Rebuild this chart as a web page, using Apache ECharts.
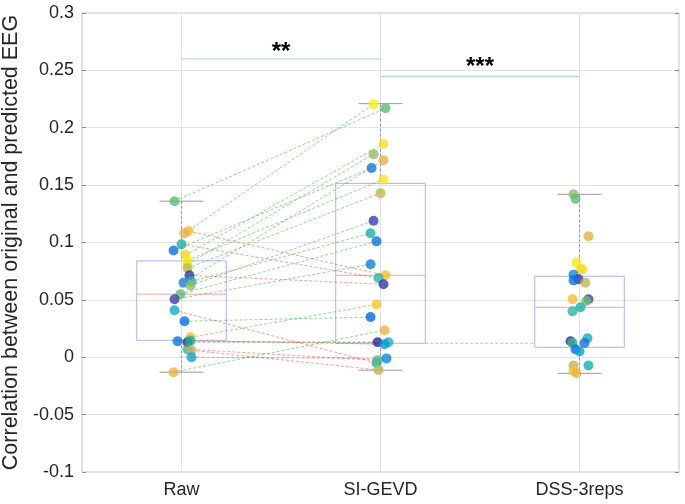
<!DOCTYPE html>
<html>
<head>
<meta charset="utf-8">
<script src="https://cdn.jsdelivr.net/npm/echarts@6/dist/echarts.min.js"></script>
<style>html,body{margin:0;padding:0;background:#fff}#c{width:685px;height:504px}</style>
</head>
<body>
<div id="c"></div>
<script>
// ---- data ----
const categories = ['Raw', 'SI-GEVD', 'DSS-3reps'];
const yTicks = [-0.1, -0.05, 0, 0.05, 0.1, 0.15, 0.2, 0.25, 0.3];

// per-subject values (paired Raw -> SI-GEVD)
const rawVals = [0.136, 0.110, 0.108, 0.0985, 0.093, 0.089, 0.0845, 0.081, 0.0775, 0.0714, 0.066, 0.065, 0.0624, 0.055, 0.0505, 0.041, 0.0314, 0.0174, 0.014, 0.013, 0.0145, 0.007, 0.006, 0.000, -0.013];
const siVals  = [0.217, 0.0714, 0.2205, 0.069, 0.165, 0.186, 0.155, 0.177, 0.143, 0.0636, 0.108, 0.1717, 0.119, 0.101, 0.081, -0.005, 0.035, 0.046, 0.013, 0.013, 0.0113, -0.0026, -0.011, -0.001, 0.0235];
const dssVals = [0.142, 0.138, 0.1055, 0.0826, 0.0766, 0.0766, 0.072, 0.068, 0.067, 0.065, 0.0505, 0.0505, 0.049, 0.0435, 0.040, 0.014, 0.0125, 0.0165, 0.0124, 0.007, 0.005, -0.0072, -0.0072, -0.012, -0.014];

// horizontal jitter (category units)
const rawJit = [-0.035, 0.035, 0.015, 0, -0.04, 0.02, 0.03, 0.03, 0.03, 0.04, 0.05, 0.01, 0.045, -0.005, -0.035, -0.035, 0.015, 0.045, -0.02, 0.03, 0.045, 0.03, 0.05, 0.05, -0.04];
const siJit  = [0.025, 0.025, -0.035, -0.01, -0.045, 0.015, 0.015, -0.035, 0, 0.015, -0.05, 0.015, -0.035, -0.02, -0.05, -0.02, -0.05, -0.02, -0.015, 0.04, 0.02, -0.015, -0.01, 0.03, 0.02];
const dssJit = [-0.03, -0.02, 0.045, -0.015, 0.005, 0.015, -0.03, -0.005, -0.03, 0.03, -0.035, 0.045, 0.035, 0.005, -0.035, -0.045, -0.035, 0.04, 0.025, -0.02, 0, -0.03, 0.045, -0.03, -0.015];

const rawColors = ['#5fbb7c','#f6bd3a','#e6b24c','#21b19b','#0c72db','#f7d329','#f6ef1a','#f0e22a','#bbb751','#2f3ba6','#22b6a4','#1a80d6','#92bb66','#69b877','#3a3db0','#17a7c9','#066fe0','#f7bf33','#0d75d9','#2b2e93','#1fae9c','#3fb394','#c0b558','#0aa5cd','#e9b146'];
const siColors  = ['#5dba7c','#f7bd35','#f7f01a','#2fb59a','#0f78d8','#f6e024','#f5e726','#93bb66','#bcb852','#2f3aa6','#1db0a4','#e4b34f','#3541b0','#0b74db','#1480d4','#18b0b0','#0668dc','#f8c232','#2c2c90','#1db5b0','#0d95d4','#52b98a','#c0b455','#0d86d9','#e8b24a'];
const dssColors = ['#95bc66','#60bb80','#e3b04b','#f6e524','#f5e22a','#f1d92c','#1484d6','#2f3aa8','#0c72db','#bbb853','#f4bd3b','#3440aa','#7cbc70','#1db0a9','#2db597','#2d2f93','#3ab592','#14a8c2','#0c72db','#0b6ce0','#0aa0d0','#c0b656','#14aeb8','#f8c132','#eab348'];

// box-plot statistics
const boxPos = [1, 2, 3];
const boxMin = [-0.013, -0.0113, -0.014];
const boxQ1  = [0.0148, 0.0122, 0.0087];
const boxMed = [0.055, 0.0714, 0.0435];
const boxQ3  = [0.084, 0.1515, 0.0706];
const boxMax = [0.136, 0.221, 0.142];

// significance bars
const sigFrom = [1, 2];
const sigTo = [2, 3];
const sigY = [0.26, 0.2448];
const sigText = ['**', '***'];
const sigTextY = [0.266, 0.253];

// dashed link between SI-GEVD and DSS-3reps boxes
const linkFrom = [2.225];
const linkTo = [2.775];
const linkY = [0.0122];

// ---- chart ----
const FONT = 'Liberation Sans, Arial, Helvetica, sans-serif';
const chart = echarts.init(document.getElementById('c'), null, {renderer: 'canvas'});

const boxData = boxPos.map((p, i) => [p, boxMin[i], boxQ1[i], boxMed[i], boxQ3[i], boxMax[i]]);
const pairData = rawVals.map((r, i) => [1 + rawJit[i], r, 2 + siJit[i], siVals[i]]);
const mk = (vals, jit, cols, c) => vals.map((v, i) => ({value: [c + jit[i], v], itemStyle: {color: cols[i]}}));
const sigData = sigFrom.map((f, i) => [f, sigTo[i], sigY[i], sigTextY[i], i]);
const linkData = linkFrom.map((f, i) => [f, linkTo[i], linkY[i]]);

const option = {
  animation: false,
  backgroundColor: '#fff',
  grid: {left: 82, right: 6, top: 13, bottom: 32, show: true, borderColor: '#c4c4c4', borderWidth: 1, containLabel: false, outerBoundsMode: 'none'},
  xAxis: [
    {type: 'value', min: 0.5, max: 3.5, position: 'bottom',
     axisLine: {show: false},
     axisTick: {show: true, inside: true, length: 4, customValues: boxPos, lineStyle: {color: '#8a8a8a'}},
     axisLabel: {show: true, customValues: boxPos, formatter: v => categories[Math.round(v) - 1] || '', color: '#262626', fontSize: 18, fontFamily: FONT, margin: 9},
     splitLine: {show: false}},
    {type: 'value', min: 0.5, max: 3.5, position: 'top',
     axisLine: {show: false},
     axisTick: {show: true, inside: true, length: 4, customValues: boxPos, lineStyle: {color: '#8a8a8a'}},
     axisLabel: {show: false}, splitLine: {show: false}}
  ],
  yAxis: [
    {type: 'value', min: -0.1, max: 0.3, interval: 0.05, position: 'left',
     name: 'Correlation between original and predicted EEG', nameLocation: 'middle', nameGap: 51,
     nameTextStyle: {color: '#262626', fontSize: 21.5, fontFamily: FONT},
     axisLine: {show: false},
     axisTick: {show: true, inside: true, length: 4, lineStyle: {color: '#8a8a8a'}},
     axisLabel: {color: '#262626', fontSize: 18, fontFamily: FONT, margin: 8,
                 formatter: v => String(+v.toFixed(2))},
     splitLine: {show: true, lineStyle: {color: '#e3e3e3', width: 1}}},
    {type: 'value', min: -0.1, max: 0.3, interval: 0.05, position: 'right',
     axisLine: {show: false},
     axisTick: {show: true, inside: true, length: 4, lineStyle: {color: '#8a8a8a'}},
     axisLabel: {show: false}, splitLine: {show: false}}
  ],
  series: [
    {type: 'custom', xAxisIndex: 0, yAxisIndex: 0, z: 1, silent: true,
     data: boxPos.map(p => [p]),
     renderItem: (params, api) => {
       const a = api.coord([api.value(0), 0.3]);
       const b = api.coord([api.value(0), -0.1]);
       return {type: 'line', shape: {x1: a[0], y1: a[1], x2: b[0], y2: b[1]}, style: {stroke: '#e3e3e3', lineWidth: 1}};
     }},
    {type: 'custom', xAxisIndex: 0, yAxisIndex: 0, z: 2, silent: true,
     data: boxData,
     encode: {x: 0, y: [1, 2, 3, 4, 5]},
     renderItem: (params, api) => {
       const x = api.value(0);
       const hw = 0.225, cw = 0.11;
       const c = (xx, yy) => api.coord([xx, yy]);
       const tl = c(x - hw, api.value(4)), br = c(x + hw, api.value(2));
       const m1 = c(x - hw, api.value(3)), m2 = c(x + hw, api.value(3));
       const top = c(x, api.value(5)), bot = c(x, api.value(1));
       const q3 = c(x, api.value(4)), q1 = c(x, api.value(2));
       const capT1 = c(x - cw, api.value(5)), capT2 = c(x + cw, api.value(5));
       const capB1 = c(x - cw, api.value(1)), capB2 = c(x + cw, api.value(1));
       const gray = {stroke: '#9a9a9a', lineWidth: 1};
       return {type: 'group', children: [
         {type: 'line', shape: {x1: top[0], y1: top[1], x2: q3[0], y2: q3[1]}, style: Object.assign({lineDash: [3, 2]}, gray)},
         {type: 'line', shape: {x1: q1[0], y1: q1[1], x2: bot[0], y2: bot[1]}, style: Object.assign({lineDash: [3, 2]}, gray)},
         {type: 'line', shape: {x1: capT1[0], y1: capT1[1], x2: capT2[0], y2: capT2[1]}, style: gray},
         {type: 'line', shape: {x1: capB1[0], y1: capB1[1], x2: capB2[0], y2: capB2[1]}, style: gray},
         {type: 'rect', shape: {x: tl[0], y: tl[1], width: br[0] - tl[0], height: br[1] - tl[1]}, style: {fill: null, stroke: '#b0b0fa', lineWidth: 1}},
         {type: 'line', shape: {x1: m1[0], y1: m1[1], x2: m2[0], y2: m2[1]}, style: {stroke: '#f4a3a3', lineWidth: 1}}
       ]};
     }},
    {type: 'custom', xAxisIndex: 0, yAxisIndex: 0, z: 2, silent: true,
     data: linkData, encode: {x: [0, 1], y: 2},
     renderItem: (params, api) => {
       const a = api.coord([api.value(0), api.value(2)]);
       const b = api.coord([api.value(1), api.value(2)]);
       return {type: 'line', shape: {x1: a[0], y1: a[1], x2: b[0], y2: b[1]}, style: {stroke: '#9cc8e4', lineWidth: 1, lineDash: [3, 2]}};
     }},
    {type: 'custom', xAxisIndex: 0, yAxisIndex: 0, z: 3, silent: true,
     data: pairData, encode: {x: [0, 2], y: [1, 3]},
     renderItem: (params, api) => {
       const a = api.coord([api.value(0), api.value(1)]);
       const b = api.coord([api.value(2), api.value(3)]);
       const up = api.value(3) >= api.value(1);
       return {type: 'line', shape: {x1: a[0], y1: a[1], x2: b[0], y2: b[1]},
               style: {stroke: up ? 'rgba(40,170,40,0.5)' : 'rgba(240,40,40,0.45)', lineWidth: 1, lineDash: [3, 2]}};
     }},
    {type: 'custom', xAxisIndex: 0, yAxisIndex: 0, z: 3, silent: true,
     data: sigData, encode: {x: [0, 1], y: [2, 3]},
     renderItem: (params, api) => {
       const a = api.coord([api.value(0), api.value(2)]);
       const b = api.coord([api.value(1), api.value(2)]);
       const t = api.coord([(api.value(0) + api.value(1)) / 2, api.value(3)]);
       return {type: 'group', children: [
         {type: 'line', shape: {x1: a[0], y1: a[1], x2: b[0], y2: b[1]}, style: {stroke: '#a8d0ea', lineWidth: 1}},
         {type: 'text', x: t[0], y: t[1], style: {text: sigText[api.value(4)], fill: '#000', fontSize: 24, fontWeight: 'bold', fontFamily: FONT, align: 'center', verticalAlign: 'middle'}}
       ]};
     }},
    {type: 'scatter', name: 'Raw', xAxisIndex: 0, yAxisIndex: 0, z: 5, symbolSize: 10, data: mk(rawVals, rawJit, rawColors, 1)},
    {type: 'scatter', name: 'SI-GEVD', xAxisIndex: 0, yAxisIndex: 0, z: 5, symbolSize: 10, data: mk(siVals, siJit, siColors, 2)},
    {type: 'scatter', name: 'DSS-3reps', xAxisIndex: 0, yAxisIndex: 0, z: 5, symbolSize: 10, data: mk(dssVals, dssJit, dssColors, 3)}
  ]
};
chart.setOption(option);
</script>
</body>
</html>
